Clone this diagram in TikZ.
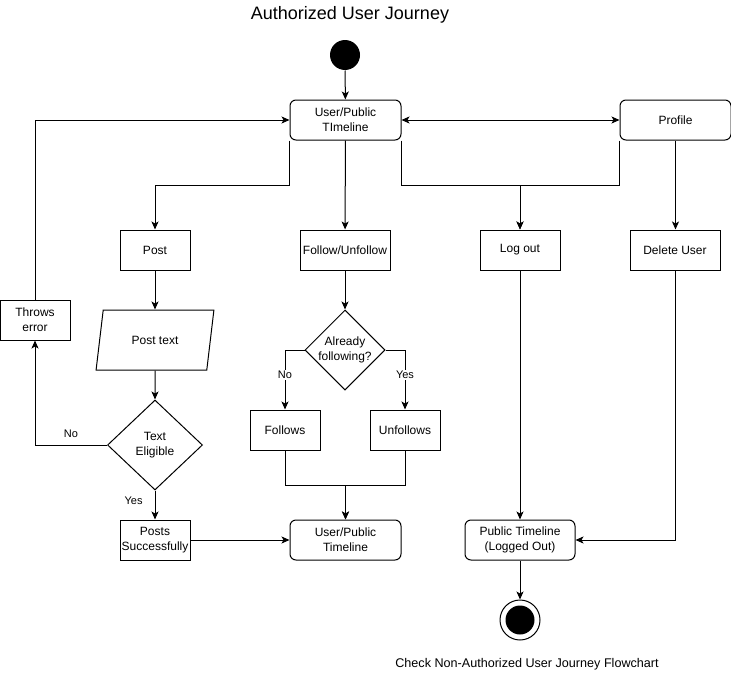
\documentclass[tikz,border=0pt]{standalone}
\usepackage{fontspec}
\setmainfont{Liberation Sans}
\usetikzlibrary{arrows.meta,shapes.geometric}

\begin{document}
\begin{tikzpicture}[x=1pt,y=-1pt,line width=1pt,
  every node/.style={font=\fontsize{12}{15}\selectfont,align=center,inner sep=0pt},
  box/.style={rectangle,draw,minimum height=40,minimum width=70},
  rbox/.style={rectangle,draw,rounded corners=6,minimum height=40,minimum width=111},
  choice/.style={diamond,draw,inner sep=0pt},
  lbl/.style={font=\fontsize{11}{13}\selectfont},
  arr/.style={-{Stealth[length=8pt,width=7pt,inset=2pt]}}]

\useasboundingbox (0,0) rectangle (731,680);

% Nodes
\node[font=\fontsize{18}{21}\selectfont] (title) at (350,15) {Authorized User Journey};
\node[circle,fill=black,minimum size=30] (start) at (345,55) {};
\node[rbox] (upt) at (345.5,120) {User/Public\\TImeline};
\node[rbox] (profile) at (675.5,120) {Profile};
\node[box] (post) at (155,250) {Post};
\node[box,minimum width=90] (follow) at (345,250) {Follow/Unfollow};
\node[box,minimum width=80] (logout) at (520,250) {Log out};
\node[box,minimum width=90] (delete) at (675,250) {Delete User};
\node[box] (throws) at (35,320) {Throws\\error};
\node[trapezium,draw,trapezium left angle=69,trapezium right angle=111,trapezium stretches=true,minimum width=118,minimum height=60] (posttext) at (155,340) {Post text};
\node[choice,minimum width=95,minimum height=90] (eligible) at (155,445) {Text\\Eligible};
\node[choice,minimum width=80,minimum height=80] (already) at (345,350) {Already\\following?};
\node[box] (follows) at (285,430) {Follows};
\node[box] (unfollows) at (405,430) {Unfollows};
\node[box] (success) at (155,540) {Posts\\Successfully};
\node[rbox] (upt2) at (345.5,540) {User/Public\\Timeline};
\node[rbox,minimum width=110] (ptlo) at (520,540) {Public Timeline\\(Logged Out)};
\node[circle,draw,fill=white,minimum size=40] (finish) at (520,620) {};
\node[circle,fill=black,minimum size=29] (finishdot) at (finish.center) {};
\node[font=\fontsize{12.6}{15}\selectfont] (caption) at (527,664) {Check Non-Authorized User Journey Flowchart};

%arcs
\draw[arr] (start) -- (upt);
\draw[{Stealth[length=8pt,width=7pt,inset=2pt]}-{Stealth[length=8pt,width=7pt,inset=2pt]}] (upt) -- (profile);
\draw[arr] (throws.north) |- (upt.west);
\draw[arr] (upt.south west) -- ++(0,45) -| (post.north);
\draw[arr] (upt) -- (follow);
\draw[arr] (upt.south east) -- ++(0,45) -| (logout.north);
\draw[arr] (profile.south west) -- ++(0,45) -| (logout.north);
\draw[arr] (profile.south) -- (profile.south |- delete.north);
\draw[arr] (post) -- (posttext);
\draw[arr] (posttext) -- (eligible);
\draw[arr] (eligible.west) -| node[lbl,pos=0.25,above=7pt] {No} (throws.south);
\draw[arr] (eligible) -- node[lbl,pos=0.37,left=12pt] {Yes} (success);
\draw[arr] (success) -- (upt2);
\draw[arr] (follow) -- (already);
\draw[arr] (already.west) -| node[lbl,pos=0.71,fill=white,inner sep=1pt] {No} (follows.north);
\draw[arr] (already.east) -| node[lbl,pos=0.71,fill=white,inner sep=1pt] {Yes} (unfollows.north);
\draw[arr] (follows.south) -- ++(0,35) -| (upt2.north);
\draw[arr] (unfollows.south) -- ++(0,35) -| (upt2.north);
\draw[arr] (logout) -- (ptlo);
\draw[arr] (delete.south) |- (ptlo.east);
\draw[arr] (ptlo) -- (finish);
\end{tikzpicture}
\end{document}
